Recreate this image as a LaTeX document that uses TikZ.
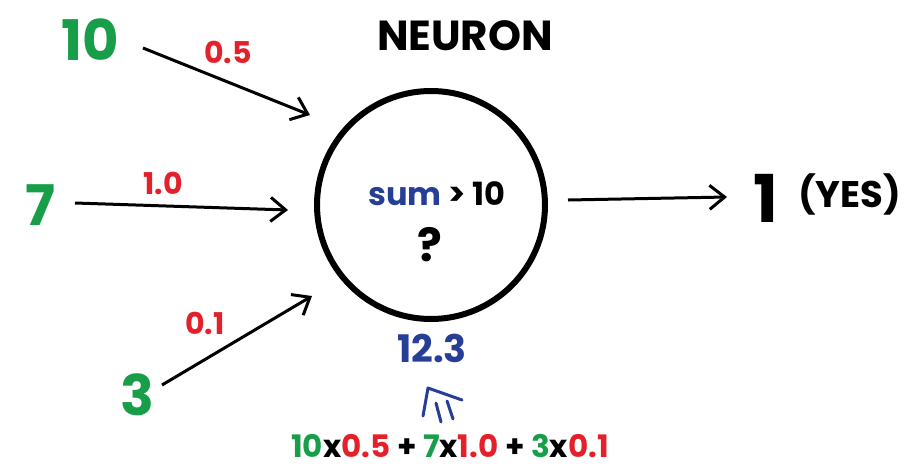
\documentclass[tikz,border=0pt]{standalone}
\usepackage{fontspec}
\setmainfont{Poppins}
\usepackage{xcolor}
\usetikzlibrary{positioning,arrows.meta}
\definecolor{ingreen}{RGB}{24,158,72}
\definecolor{wred}{RGB}{228,32,42}
\definecolor{sumblue}{RGB}{38,62,150}
\tikzset{
  inval/.style  = {text=ingreen, font=\fontsize{56}{60}\selectfont\bfseries, inner sep=0pt},
  weight/.style = {text=wred, font=\fontsize{30}{33}\selectfont\bfseries, inner sep=0pt},
  arr/.style    = {-{Straight Barb[length=15pt,width=24pt,line width=3pt]}, line width=3pt, black},
  cell/.style   = {circle, draw=black, line width=6pt, minimum size=228pt, inner sep=0pt},
}
\newcommand{\gx}[1]{\textcolor{ingreen}{#1}}
\newcommand{\rx}[1]{\textcolor{wred}{#1}}

\begin{document}
\begin{tikzpicture}[x=1pt,y=-1pt]
  \useasboundingbox (0,0) rectangle (923,469);
  \node[cell] (neuron) at (431,205) {};
  \node[font=\fontsize{42}{46}\selectfont\bfseries, inner sep=0pt] (title) at (465,36) {NEURON};

  \node[inval] (in10) at (90,40) {10};
  \node[inval] (in7) at (40,205) {7};
  \node[inval] (in3) at (137,395) {3};

  \node[weight] (w05) at (228,52) {0.5};
  \node[weight] (w10) at (163,183) {1.0};
  \node[weight] (w01) at (205,323) {0.1};

  % start and end points of the input arrows
  \coordinate (from10) at (143,48);
  \coordinate (from7) at (75,203);
  \coordinate (from3) at (162,385);
  \coordinate (tip10) at (310,115);
  \coordinate (tip7) at (288,210);
  \coordinate (tip3) at (312,296);
  \draw[arr] (from10) -- (tip10);
  \draw[arr] (from7) -- (tip7);
  \draw[arr] (from3) -- (tip3);

  \node[font=\fontsize{32}{35}\selectfont\bfseries, inner sep=0pt] (rule) at (437,194)
    {\textcolor{sumblue}{sum} > 10};
  \node[font=\fontsize{46}{50}\selectfont\bfseries, inner sep=0pt] (quest) at (430,245) {?};

  \node[font=\fontsize{66}{70}\selectfont\bfseries, inner sep=0pt] (out) at (766,198) {1};
  \node[font=\fontsize{37}{40}\selectfont\bfseries, inner sep=0pt, anchor=west] (yes) at (798,194) {(YES)};
  \coordinate (fromcell) at (568,200);
  \coordinate (tipout) at (727,197);
  \draw[arr] (fromcell) -- (tipout);

  \node[text=sumblue, font=\fontsize{38}{42}\selectfont\bfseries, inner sep=0pt] (total) at (432,348) {12.3};
  \node[font=\fontsize{31}{34}\selectfont\bfseries, inner sep=0pt] (formula) at (450,446)
    {\gx{10}x\rx{0.5} + \gx{7}x\rx{1.0} + \gx{3}x\rx{0.1}};

  % little hand-drawn pointer
  \draw[sumblue, line width=3pt, line cap=round, line join=round]
    (423,416) -- (428,388) -- (462,400);
  \draw[sumblue, line width=3pt, line cap=round] (436,403) -- (441,422);
  \draw[sumblue, line width=3pt, line cap=round] (447,401) -- (453,419);
\end{tikzpicture}
\end{document}
